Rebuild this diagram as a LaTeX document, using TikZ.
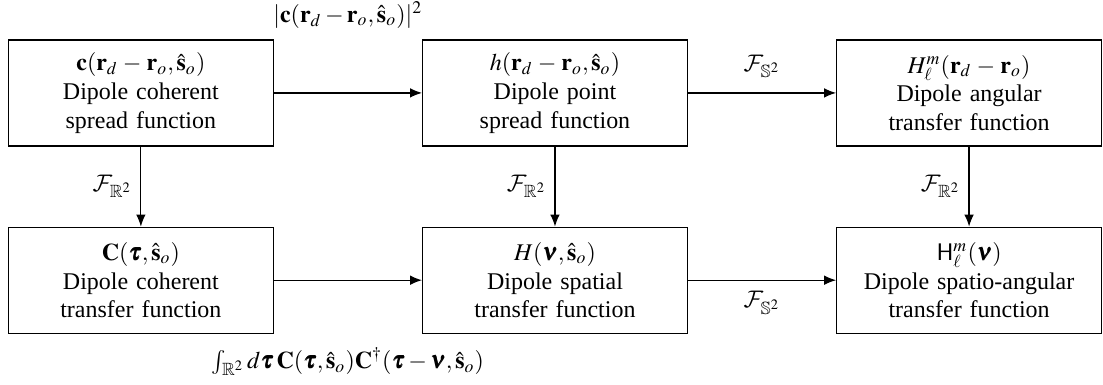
\documentclass[tikz,border=0pt]{standalone}
\usepackage{amsmath}
\usepackage{mathptmx}
\usepackage{amssymb}
\usepackage{bm}
\DeclareMathAlphabet{\mathcal}{OMS}{cmsy}{m}{n}
\usepackage[no-math]{fontspec}
\setmainfont{Liberation Serif}
\usepackage{tikz}
\usetikzlibrary{arrows.meta,positioning}

\begin{document}
\begin{tikzpicture}[->,>={Latex[length=5pt,width=4pt]},line width=0.5pt,node distance=172.7pt]
	\tikzstyle{block}=[draw=black,fill=white,text=black,align=center,
		text width=104pt,minimum width=110.4pt,minimum height=44.2pt,inner sep=3pt]
	\useasboundingbox (0,0) rectangle (460pt,-160.56pt);
	
	\node[block] (csf) at (58.75pt,-38.75pt) {$\mathbf{c}(\mathbf{r}_d-\mathbf{r}_o,\hat{\mathbf{s}}_o)$\\Dipole coherent\\spread function};
	\node[block] (psf) [right of=csf] {$h(\mathbf{r}_d-\mathbf{r}_o,\hat{\mathbf{s}}_o)$\\Dipole point\\spread function};
	\node[block] (atf) [right of=psf] {$H_\ell^m(\mathbf{r}_d-\mathbf{r}_o)$\\Dipole angular\\transfer function};
	\node[block] (ctf) [below of=csf,node distance=78.1pt] {$\mathbf{C}(\bm{\tau},\hat{\mathbf{s}}_o)$\\Dipole coherent\\transfer function};
	\node[block] (stf) [below of=psf,node distance=78.1pt] {$H(\bm{\nu},\hat{\mathbf{s}}_o)$\\Dipole spatial\\transfer function};
	\node[block] (satf) [below of=atf,node distance=78.1pt] {$\mathsf{H}_\ell^m(\bm{\nu})$\\Dipole spatio-angular\\transfer function};
	
	\path
	(csf) edge node[yshift=32.5pt] {$|\mathbf{c}(\mathbf{r}_d-\mathbf{r}_o,\hat{\mathbf{s}}_o)|^2$} (psf)
		edge node[left] {$\mathcal{F}_{\mathbb{R}^2}$} (ctf);
	\path
	(psf) edge node[yshift=11pt] {$\mathcal{F}_{\mathbb{S}^2}$} (atf)
		edge node[left] {$\mathcal{F}_{\mathbb{R}^2}$} (stf);
	\path
	(atf) edge node[left] {$\mathcal{F}_{\mathbb{R}^2}$} (satf);
	\path
	(ctf) edge node[yshift=-34pt] {$\int_{\mathbb{R}^2} d\bm{\tau}\,\mathbf{C}(\bm{\tau},\hat{\mathbf{s}}_o)\mathbf{C}^\dagger(\bm{\tau}-\bm{\nu},\hat{\mathbf{s}}_o)$} (stf);
	\path
	(stf) edge node[yshift=-9.5pt] {$\mathcal{F}_{\mathbb{S}^2}$} (satf);
\end{tikzpicture}
\end{document}
